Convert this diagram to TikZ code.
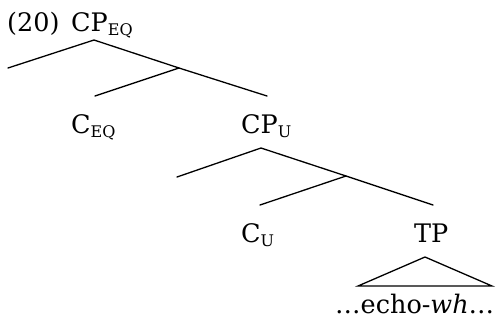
\documentclass[tikz,border=0pt]{standalone}
\usepackage{fontspec}
\setmainfont{DejaVu Serif}
\newcommand{\lowsub}[1]{\raisebox{-4pt}{\fontsize{16}{16}\selectfont #1}}

\begin{document}
\begin{tikzpicture}[x=1pt, y=-1pt,
  lab/.style={anchor=base west, inner sep=0pt, font=\fontsize{25.5}{30}\selectfont},
  branch/.style={line width=1.3pt, line cap=round}]
\useasboundingbox (0,0) rectangle (497,322);

\node[lab] (ex) at (7, 31) {(20)};
\node[lab] (cpeq) at (71, 31) {CP\lowsub{EQ}};
\node[lab] (ceq) at (71, 133) {C\lowsub{EQ}};
\node[lab] (cpu) at (241, 133) {CP\lowsub{U}};
\node[lab] (cu) at (241, 242) {C\lowsub{U}};
\node[lab] (tp) at (414, 242) {TP};
\node[lab] (echo) at (335, 313) {\ldots echo-\textit{wh}\ldots};

\coordinate (a1) at (94, 40);
\coordinate (a2) at (8, 68);
\coordinate (a3) at (179, 68);
\coordinate (a4) at (95, 96);
\coordinate (a5) at (267, 96);
\coordinate (b1) at (261, 148);
\coordinate (b2) at (177, 177);
\coordinate (b3) at (346, 176);
\coordinate (b4) at (260, 205);
\coordinate (b5) at (433, 205);
\coordinate (t1) at (425, 257);
\coordinate (t2) at (358, 286);
\coordinate (t3) at (492, 286);

\draw[branch] (a2) -- (a1) -- (a3) -- (a5);
\draw[branch] (a3) -- (a4);
\draw[branch] (b2) -- (b1) -- (b3) -- (b5);
\draw[branch] (b3) -- (b4);
\draw[branch, line join=miter] (t1) -- (t2) -- (t3) -- cycle;
\end{tikzpicture}
\end{document}
